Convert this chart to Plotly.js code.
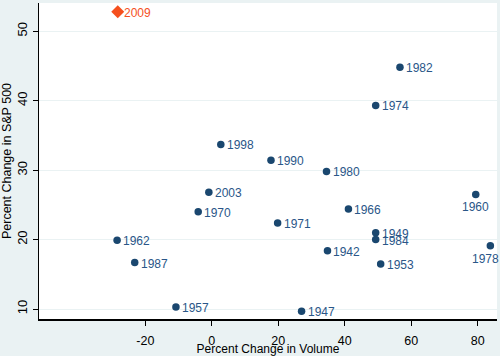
<!DOCTYPE html>
<html>
<head>
<meta charset="utf-8">
<script src="https://cdn.plot.ly/plotly-3.0.1.min.js"></script>
<style>html,body{margin:0;padding:0;background:#eaf2f3;}#chart{width:500px;height:356px;}</style>
</head>
<body>
<div id="chart"></div>
<script>
var years = ["1998","1982","1974","1990","1980","2003","1970","1962","1987","1957","1960","1966","1971","1949","1984","1978","1942","1953","1947"];
var volChange = [2.7,56.6,49.3,17.8,34.5,-0.9,-4.1,-28.5,-23.2,-10.8,79.4,41.1,19.8,49.3,49.3,83.8,34.8,50.8,27.0];
var spChange = [33.7,44.8,39.3,31.4,29.8,26.8,24.0,19.9,16.7,10.3,26.5,24.4,22.4,21.0,20.0,19.1,18.4,16.5,9.7];
var labelPos = ["right","right","right","right","right","right","right","right","right","right","below","right","right","right","right","below-left","right","right","right"];
var highlightYear = ["2009"];
var highlightVol = [-28.3];
var highlightSP = [52.8];

var FONT = "Liberation Sans, Arial, sans-serif";
var labelColor = "#2a5688";
var hiColor = "#f5501e";

var traces = [
  {
    x: volChange, y: spChange, mode: "markers", type: "scatter",
    marker: {color: "#1a476f", size: 7.5, symbol: "circle"},
    cliponaxis: false, hoverinfo: "none"
  },
  {
    x: highlightVol, y: highlightSP, mode: "markers", type: "scatter",
    marker: {color: hiColor, size: 10, symbol: "diamond"},
    cliponaxis: false, hoverinfo: "none"
  }
];

function makeLabel(x, y, t, pos, color) {
  var a = {x: x, y: y, xref: "x", yref: "y", text: t, showarrow: false,
    font: {family: FONT, size: 12, color: color}};
  if (pos === "right") { a.xanchor = "left"; a.yanchor = "middle"; a.xshift = 4; a.yshift = -1; }
  else { a.xanchor = "center"; a.yanchor = "top"; a.yshift = -4; if (pos === "below-left") a.xshift = -5; }
  return a;
}
var annotations = years.map(function(y, i){ return makeLabel(volChange[i], spChange[i], y, labelPos[i], labelColor); });
annotations.push(makeLabel(highlightVol[0], highlightSP[0], highlightYear[0], "right", hiColor));

var layout = {
  width: 500, height: 356,
  margin: {l: 39, r: 3, t: 3, b: 37},
  paper_bgcolor: "#eaf2f3", plot_bgcolor: "#ffffff",
  showlegend: false,
  annotations: annotations,
  font: {family: FONT, size: 13, color: "#000"},
  xaxis: {
    range: [-52, 85.8], tickvals: [-20, 0, 20, 40, 60, 80], ticktext: ["-20","0","20","40","60","80"],
    showgrid: false, zeroline: false, showline: true, linecolor: "#000", linewidth: 1.5,
    ticks: "outside", ticklen: 5, tickcolor: "#000", tickwidth: 1,
    ticklabelstandoff: 4,
    tickfont: {size: 12.5, color: "#000"},
    title: {text: "Percent Change in Volume", font: {size: 12, color: "#000"}, standoff: 3}
  },
  yaxis: {
    range: [8.57, 54.05], tickvals: [10, 20, 30, 40, 50], ticktext: ["10","20","30","40","50"],
    tickangle: -90,
    showgrid: true, gridcolor: "#eaf2f3", gridwidth: 1,
    zeroline: false, showline: true, linecolor: "#000", linewidth: 1.5,
    ticks: "outside", ticklen: 5, tickcolor: "#000", tickwidth: 1,
    tickfont: {size: 13, color: "#000"},
    title: {text: "Percent Change in S&P 500", font: {size: 12.5, color: "#000"}, standoff: 4}
  }
};

Plotly.newPlot("chart", traces, layout, {displayModeBar: false, staticPlot: true});
</script>
</body>
</html>
